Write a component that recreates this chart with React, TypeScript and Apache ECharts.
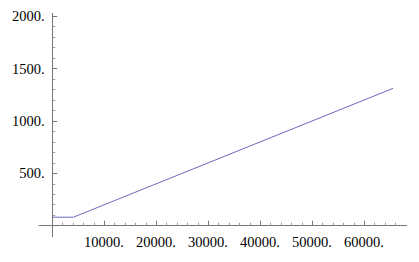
import React, { useEffect, useRef } from "react";
import * as echarts from "echarts";

const xValues = [0, 4050, 65536];
const yValues = [81, 81, 1311];

const xMajorTicks = [10000, 20000, 30000, 40000, 50000, 60000];
const xMinorTicks = [2000, 4000, 6000, 8000, 12000, 14000, 16000, 18000, 22000, 24000, 26000, 28000, 32000, 34000, 36000, 38000, 42000, 44000, 46000, 48000, 52000, 54000, 56000, 58000, 62000, 64000, 66000];
const yMajorTicks = [500, 1000, 1500, 2000];
const yMinorTicks = [100, 200, 300, 400, 600, 700, 800, 900, 1100, 1200, 1300, 1400, 1600, 1700, 1800, 1900];

const X_MIN = -2560;
const X_MAX = 68150;
const Y_MIN = -105;
const Y_MAX = 2027;

const AXIS_COLOR = "#777777";
const FONT = "'Liberation Serif', 'DejaVu Serif', serif";

export default function App() {
  const ref = useRef<HTMLDivElement>(null);
  useEffect(() => {
    if (!ref.current) return;
    const chart = echarts.init(ref.current, undefined, { renderer: "svg" });
    const fmt = (v: number) => `${v}.`;
    chart.setOption({
      animation: false,
      backgroundColor: "#ffffff",
      grid: { left: 39, right: 12.3, top: 13.3, bottom: 25.3, containLabel: false, outerBoundsMode: "none" },
      xAxis: [
        {
          type: "value",
          min: X_MIN,
          max: X_MAX,
          position: "bottom",
          axisLine: { show: true, onZero: true, onZeroAxisIndex: 0, lineStyle: { color: AXIS_COLOR, width: 1 } },
          axisTick: { show: true, inside: true, length: 5, customValues: xMajorTicks, lineStyle: { color: AXIS_COLOR } },
          axisLabel: { show: true, customValues: xMajorTicks, formatter: fmt, color: "#000", fontFamily: FONT, fontSize: 14.5, margin: -2, padding: [0, 1, 0, 0] },
          splitLine: { show: false },
        },
        {
          type: "value",
          min: X_MIN,
          max: X_MAX,
          position: "bottom",
          axisLine: { show: false, onZero: true, onZeroAxisIndex: 1 },
          axisTick: { show: true, inside: true, length: 3, customValues: xMinorTicks, lineStyle: { color: "#999999" } },
          axisLabel: { show: false },
          splitLine: { show: false },
        },
      ],
      yAxis: [
        {
          type: "value",
          min: Y_MIN,
          max: Y_MAX,
          position: "left",
          axisLine: { show: true, onZero: true, onZeroAxisIndex: 0, lineStyle: { color: AXIS_COLOR, width: 1 } },
          axisTick: { show: true, inside: true, length: 5, customValues: yMajorTicks, lineStyle: { color: AXIS_COLOR } },
          axisLabel: { show: true, customValues: yMajorTicks, formatter: fmt, color: "#000", fontFamily: FONT, fontSize: 14.5, margin: -5.5, padding: [3, 0, 0, 0] },
          splitLine: { show: false },
        },
        {
          type: "value",
          min: Y_MIN,
          max: Y_MAX,
          position: "left",
          axisLine: { show: false, onZero: true, onZeroAxisIndex: 1 },
          axisTick: { show: true, inside: true, length: 3, customValues: yMinorTicks, lineStyle: { color: "#999999" } },
          axisLabel: { show: false },
          splitLine: { show: false },
        },
      ],
      series: [
        {
          type: "line",
          xAxisIndex: 0,
          yAxisIndex: 0,
          data: xValues.map((x, i) => [x, yValues[i]]),
          showSymbol: false,
          lineStyle: { color: "#6b6bbd", width: 1 },
          silent: true,
        },
      ],
    });
    return () => chart.dispose();
  }, []);
  return <div ref={ref} style={{ position: "fixed", left: 0, top: 0, width: 419, height: 262 }} />;
}
